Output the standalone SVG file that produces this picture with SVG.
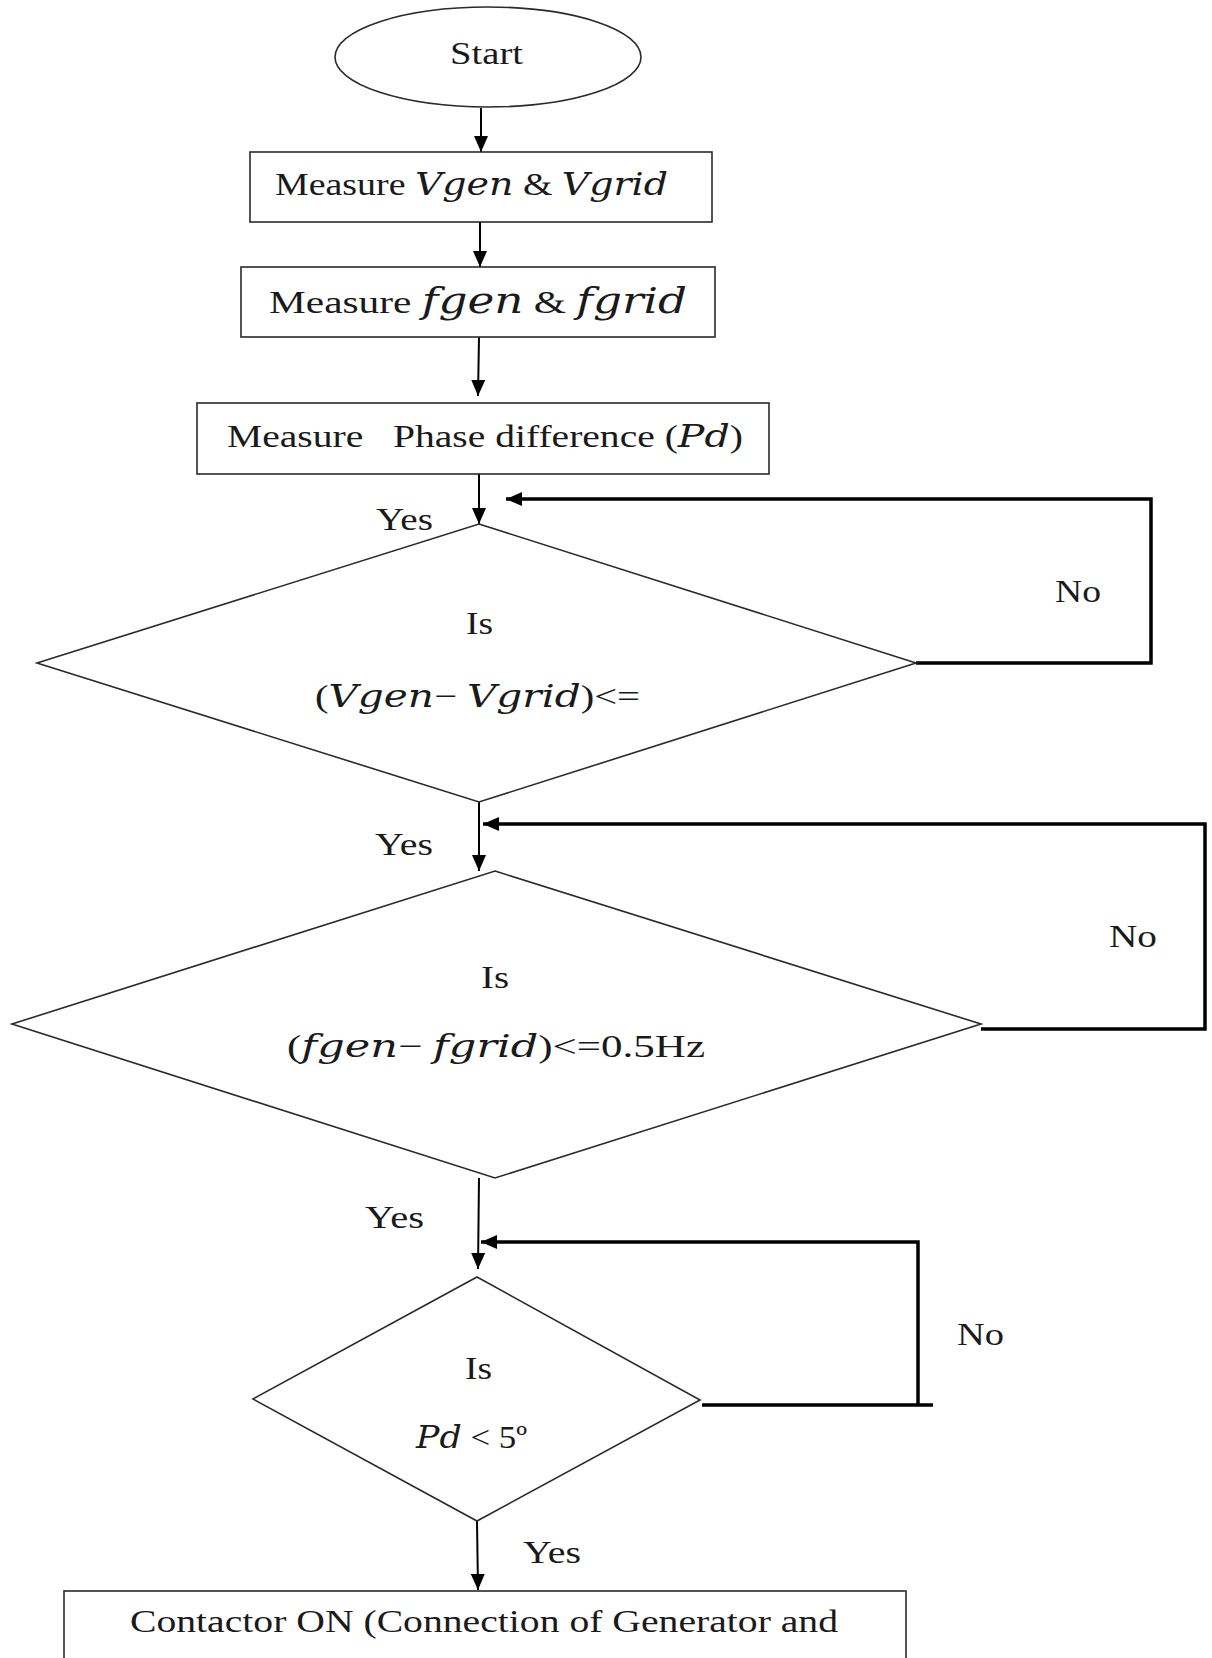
<svg xmlns="http://www.w3.org/2000/svg" width="1212" height="1658" viewBox="0 0 1212 1658">
<style>
.shape{fill:#fff;stroke:#2a2a2a;stroke-width:1.6}
.t{font-family:"Liberation Serif","Times New Roman",serif;font-size:32px;fill:#1a1a1a}
.m{font-family:"DejaVu Serif",serif;font-style:italic}
.c{fill:none;stroke:#000;stroke-width:2}
.fb{fill:none;stroke:#000;stroke-width:3.5}
</style>
<defs>
<marker id="ah" markerUnits="userSpaceOnUse" markerWidth="16" markerHeight="16" viewBox="0 0 16 14" refX="16" refY="7" orient="auto">
<path d="M0,0 L16,7 L0,14 z" fill="#000"/>
</marker>
</defs>
<rect width="1212" height="1658" fill="#fff"/>

<g id="connectors">
<line class="c" x1="481" y1="108" x2="481" y2="152" marker-end="url(#ah)"/>
<line class="c" x1="480" y1="222" x2="480" y2="267" marker-end="url(#ah)"/>
<line class="c" x1="479" y1="337" x2="478" y2="396" marker-end="url(#ah)"/>
<line class="c" x1="479" y1="474" x2="479" y2="524" marker-end="url(#ah)"/>
<line class="c" x1="479" y1="802" x2="479" y2="871" marker-end="url(#ah)"/>
<line class="c" x1="479" y1="1178" x2="478" y2="1269" marker-end="url(#ah)"/>
<line class="c" x1="477" y1="1521" x2="478" y2="1590" marker-end="url(#ah)"/>
<polyline class="fb" points="916,663 1151,663 1151,499 506,499" marker-end="url(#ah)"/>
<polyline class="fb" points="981,1029 1205,1029 1205,824 483,824" marker-end="url(#ah)"/>
<polyline class="fb" points="702,1405 933,1405"/>
<polyline class="fb" points="918,1405 918,1242 481,1242" marker-end="url(#ah)"/>
<text class="t" x="376" y="530" textLength="57" lengthAdjust="spacingAndGlyphs">Yes</text>
<text class="t" x="375" y="855" textLength="58" lengthAdjust="spacingAndGlyphs">Yes</text>
<text class="t" x="365" y="1228" textLength="59" lengthAdjust="spacingAndGlyphs">Yes</text>
<text class="t" x="523" y="1563" textLength="58" lengthAdjust="spacingAndGlyphs">Yes</text>
<text class="t" x="1055" y="602" textLength="46" lengthAdjust="spacingAndGlyphs">No</text>
<text class="t" x="1109" y="947" textLength="48" lengthAdjust="spacingAndGlyphs">No</text>
<text class="t" x="957" y="1345" textLength="47" lengthAdjust="spacingAndGlyphs">No</text>
</g>

<g id="start">
<ellipse class="shape" cx="488" cy="57" rx="153" ry="50"/>
<text class="t" x="450" y="64" textLength="73" lengthAdjust="spacingAndGlyphs">Start</text>
</g>

<g id="measure-v">
<rect class="shape" x="250" y="152" width="462" height="70"/>
<text class="t" x="275" y="195" textLength="393" lengthAdjust="spacingAndGlyphs">Measure <tspan class="m">Vgen</tspan> &amp; <tspan class="m">Vgrid</tspan></text>
</g>

<g id="measure-f">
<rect class="shape" x="241" y="267" width="474" height="70"/>
<text class="t" x="269" y="313" textLength="418" lengthAdjust="spacingAndGlyphs">Measure <tspan class="m" font-size="35">fgen</tspan> &amp; <tspan class="m" font-size="35">fgrid</tspan></text>
</g>

<g id="measure-pd">
<rect class="shape" x="197" y="403" width="572" height="71"/>
<text class="t" x="227" y="447" textLength="516" lengthAdjust="spacingAndGlyphs">Measure&#160;&#160; Phase difference (<tspan class="m">Pd</tspan>)</text>
</g>

<g id="check-v">
<polygon class="shape" points="479,524 916,663 479,802 37,663"/>
<text class="t" x="466" y="634" textLength="27" lengthAdjust="spacingAndGlyphs">Is</text>
<text class="t" x="315" y="707" textLength="325" lengthAdjust="spacingAndGlyphs">(<tspan class="m">Vgen</tspan>− <tspan class="m">Vgrid</tspan>)&lt;=</text>
</g>

<g id="check-f">
<polygon class="shape" points="495,871 981,1024 495,1178 12,1024"/>
<text class="t" x="481" y="988" textLength="28" lengthAdjust="spacingAndGlyphs">Is</text>
<text class="t" x="287" y="1057" textLength="418" lengthAdjust="spacingAndGlyphs">(<tspan class="m">fgen</tspan>− <tspan class="m">fgrid</tspan>)&lt;=0.5Hz</text>
</g>

<g id="check-pd">
<polygon class="shape" points="477,1277 700,1400 477,1521 253,1399"/>
<text class="t" x="465" y="1379" textLength="27" lengthAdjust="spacingAndGlyphs">Is</text>
<text class="t" x="416" y="1448" textLength="111" lengthAdjust="spacingAndGlyphs"><tspan class="m">Pd</tspan> &lt; 5º</text>
</g>

<g id="contactor">
<rect class="shape" x="64" y="1591" width="842" height="100"/>
<text class="t" x="130" y="1632" textLength="708" lengthAdjust="spacingAndGlyphs">Contactor ON (Connection of Generator and</text>
</g>
</svg>
